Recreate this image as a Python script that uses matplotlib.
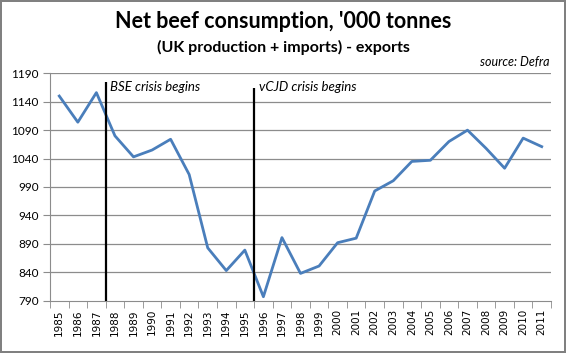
import matplotlib as mpl
mpl.use('Agg')
import matplotlib.pyplot as plt
import numpy as np

years = [str(y) for y in range(1985, 2012)]
consumption = [1150, 1104, 1156, 1080, 1043, 1055, 1074, 1012, 883, 843,
               879, 797, 901, 838, 851, 892, 900, 983, 1001, 1035,
               1037, 1070, 1090, 1058, 1023, 1076, 1061]
y_ticks = [790, 840, 890, 940, 990, 1040, 1090, 1140, 1190]
events = ['BSE crisis begins', 'vCJD crisis begins']
event_pos = [2.5, 10.5]      # category boundaries (1987|1988, 1995|1996)
event_top = [1174, 1164]

plt.rcParams['font.family'] = ['Lato', 'DejaVu Sans']

fig = plt.figure(figsize=(5.66, 3.53), dpi=100)
fig.patch.set_edgecolor('#808080')
fig.patch.set_linewidth(1.5)
ax = fig.add_axes([50 / 566, 1 - 300.7 / 353, 501 / 566, 227.4 / 353])

x = np.arange(len(years))
ax.set_ylim(790, 1190)
ax.set_xlim(-0.5, len(years) - 0.5)
ax.set_yticks(y_ticks)
ax.set_yticklabels([str(v) for v in y_ticks], fontsize=8.5)
for v in y_ticks[1:]:
    ax.axhline(v, color='#8c8c8c', lw=0.9, zorder=1)

ax.plot(x, consumption, color='#4a7ebb', lw=2.0, zorder=3)
for pos, top, label in zip(event_pos, event_top, events):
    ax.vlines(pos, 790, top, color='black', lw=1.6, zorder=4)
    ax.text(pos + 0.25, 1166, label, fontsize=9.5, style='italic',
            va='center', ha='left')

ax.set_xticks(x)
ax.set_xticklabels(years, rotation=90, fontsize=7.5, family='DejaVu Sans')
ax.set_xticks(np.arange(-0.5, len(years)), minor=True)
ax.tick_params(axis='x', which='major', length=0, pad=6)
ax.tick_params(axis='x', which='minor', length=5, color='#8c8c8c', direction='out')
ax.tick_params(axis='y', length=5, color='#8c8c8c', direction='out', pad=3)

for side in ['top', 'right']:
    ax.spines[side].set_visible(False)
for side in ['left', 'bottom']:
    ax.spines[side].set_color('#8c8c8c')

fig.text(0.5, 1 - 22 / 353, "Net beef consumption, '000 tonnes",
         ha='center', va='center', fontsize=15.5, fontweight='bold')
fig.text(0.5, 1 - 47 / 353, "(UK production + imports) - exports",
         ha='center', va='center', fontsize=11.5, fontweight='bold')
fig.text(550 / 566, 1 - 62 / 353, 'source: Defra', ha='right', va='center',
         fontsize=9, style='italic')

fig.savefig('out.png', dpi=100, edgecolor=fig.get_edgecolor())
